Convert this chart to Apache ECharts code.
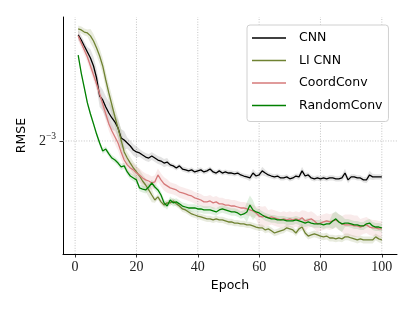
<!DOCTYPE html>
<html><head><meta charset="utf-8">
<script src="https://cdn.jsdelivr.net/npm/echarts@6/dist/echarts.min.js"></script>
<style>html,body{margin:0;padding:0;background:#fff}#c{width:415px;height:311px}</style>
</head><body><div id="c"></div>
<script>
const epochs = Array.from({length:100},(_,i)=>i+1);
const seriesNames = ['CNN','LI CNN','CoordConv','RandomConv'];
const xTicks = [0,20,40,60,80,100];
const yTicks = [0.125];
const xMin = -3.95, xMax = 104.95, yMin = 0.0766, yMax = 0.2139;

const cnn = [0.1979,0.1936,0.1886,0.1838,0.1791,0.1730,0.1642,0.1519,0.1493,0.1448,
0.1411,0.1381,0.1357,0.1322,0.1266,0.1255,0.1239,0.1223,0.1202,0.1192,
0.1187,0.1176,0.1166,0.1161,0.1171,0.1161,0.1151,0.1146,0.1136,0.1141,
0.1127,0.1122,0.1112,0.1122,0.1107,0.1103,0.1098,0.1103,0.1093,0.1098,
0.1103,0.1093,0.1098,0.1107,0.1093,0.1088,0.1098,0.1088,0.1093,0.1088,
0.1088,0.1084,0.1088,0.1079,0.1074,0.1070,0.1065,0.1088,0.1074,0.1079,
0.1098,0.1088,0.1079,0.1074,0.1070,0.1074,0.1065,0.1065,0.1070,0.1061,
0.1065,0.1074,0.1070,0.1098,0.1074,0.1079,0.1065,0.1061,0.1065,0.1061,
0.1065,0.1061,0.1065,0.1065,0.1061,0.1061,0.1065,0.1088,0.1056,0.1070,
0.1070,0.1065,0.1065,0.1056,0.1056,0.1079,0.1070,0.1070,0.1070,0.1070];

const liCnn = [0.2031,0.2022,0.2004,0.1996,0.1971,0.1928,0.1870,0.1806,0.1730,0.1628,
0.1539,0.1461,0.1387,0.1322,0.1255,0.1192,0.1161,0.1136,0.1112,0.1093,
0.1074,0.1051,0.1033,0.1011,0.0989,0.0968,0.0981,0.0960,0.0947,0.0956,
0.0956,0.0964,0.0952,0.0943,0.0931,0.0927,0.0919,0.0911,0.0907,0.0903,
0.0900,0.0896,0.0892,0.0892,0.0888,0.0892,0.0888,0.0888,0.0884,0.0880,
0.0880,0.0876,0.0876,0.0873,0.0873,0.0869,0.0869,0.0865,0.0861,0.0858,
0.0858,0.0850,0.0854,0.0847,0.0839,0.0843,0.0847,0.0850,0.0858,0.0854,
0.0850,0.0839,0.0854,0.0861,0.0839,0.0828,0.0832,0.0836,0.0832,0.0828,
0.0825,0.0828,0.0821,0.0821,0.0818,0.0821,0.0818,0.0825,0.0825,0.0821,
0.0818,0.0814,0.0818,0.0814,0.0814,0.0814,0.0814,0.0825,0.0818,0.0814];

const coordConv = [0.1971,0.1911,0.1854,0.1799,0.1730,0.1664,0.1600,0.1532,0.1467,0.1405,
0.1346,0.1305,0.1272,0.1239,0.1192,0.1151,0.1127,0.1112,0.1103,0.1088,
0.1079,0.1065,0.1056,0.1051,0.1042,0.1047,0.1079,0.1056,0.1038,0.1029,
0.1020,0.1016,0.1011,0.1002,0.0998,0.0994,0.0989,0.0985,0.0977,0.0973,
0.0968,0.0960,0.0960,0.0964,0.0956,0.0960,0.0952,0.0952,0.0947,0.0947,
0.0943,0.0943,0.0939,0.0935,0.0935,0.0931,0.0927,0.0923,0.0915,0.0903,
0.0900,0.0903,0.0896,0.0900,0.0896,0.0892,0.0888,0.0892,0.0888,0.0892,
0.0888,0.0892,0.0888,0.0896,0.0884,0.0888,0.0892,0.0884,0.0873,0.0876,
0.0880,0.0884,0.0880,0.0884,0.0888,0.0880,0.0873,0.0869,0.0869,0.0869,
0.0865,0.0865,0.0861,0.0865,0.0869,0.0861,0.0858,0.0858,0.0854,0.0854];

const randomConv = [0.1814,0.1678,0.1573,0.1474,0.1405,0.1346,0.1288,0.1239,0.1197,0.1207,
0.1182,0.1161,0.1151,0.1136,0.1117,0.1122,0.1093,0.1074,0.1065,0.1056,
0.1020,0.1015,0.1011,0.1024,0.1042,0.1024,0.1011,0.0989,0.0956,0.0943,
0.0968,0.0956,0.0960,0.0952,0.0943,0.0939,0.0935,0.0935,0.0935,0.0931,
0.0931,0.0927,0.0927,0.0927,0.0923,0.0919,0.0927,0.0931,0.0927,0.0923,
0.0919,0.0919,0.0915,0.0907,0.0911,0.0919,0.0947,0.0927,0.0919,0.0915,
0.0907,0.0900,0.0896,0.0892,0.0892,0.0888,0.0888,0.0888,0.0884,0.0884,
0.0884,0.0888,0.0884,0.0880,0.0876,0.0880,0.0876,0.0873,0.0873,0.0873,
0.0869,0.0873,0.0873,0.0884,0.0892,0.0880,0.0873,0.0876,0.0876,0.0873,
0.0869,0.0869,0.0865,0.0865,0.0873,0.0876,0.0865,0.0861,0.0861,0.0858];

// spread (std) around each mean curve
const cnnSd = [0.004,0.004,0.004,0.004,0.007,0.007,0.007,0.007,0.007,0.007,
0.007,0.007,0.005,0.005,0.005,0.005,0.003,0.003,0.003,0.003,
0.002,0.002,0.002,0.002,0.002,0.002,0.002,0.002,0.002,0.002,
0.0012,0.0012,0.0012,0.0012,0.0012,0.0012,0.0012,0.0012,0.0012,0.0012,
0.0012,0.0012,0.0012,0.0012,0.0012,0.0012,0.0012,0.0012,0.0012,0.0012,
0.0012,0.0012,0.0012,0.0012,0.0012,0.0012,0.0015,0.002,0.0015,0.0012,
0.002,0.0015,0.0012,0.0012,0.0012,0.0012,0.0012,0.0012,0.0012,0.0012,
0.0012,0.0012,0.0015,0.002,0.0015,0.0012,0.0012,0.0012,0.0012,0.0012,
0.0012,0.0012,0.0012,0.0012,0.0012,0.0012,0.0015,0.002,0.0015,0.0012,
0.0012,0.0012,0.0012,0.0012,0.0015,0.002,0.0015,0.0012,0.0012,0.0012];

const liCnnSd = [0.003,0.003,0.003,0.003,0.006,0.006,0.006,0.006,0.006,0.006,
0.006,0.006,0.006,0.006,0.006,0.003,0.003,0.003,0.003,0.003,
0.003,0.003,0.003,0.003,0.003,0.0012,0.0012,0.0012,0.0012,0.0012,
0.0012,0.0012,0.0012,0.0012,0.0012,0.0012,0.0012,0.0012,0.0012,0.0012,
0.0012,0.0012,0.0012,0.0012,0.0012,0.0012,0.0012,0.0012,0.0012,0.0012,
0.0012,0.0012,0.0012,0.0012,0.0012,0.0012,0.0012,0.0012,0.0012,0.0012,
0.0012,0.0012,0.0012,0.0012,0.0012,0.0012,0.0012,0.0012,0.0012,0.0012,
0.0012,0.0012,0.0012,0.0012,0.0012,0.0012,0.0012,0.0012,0.0012,0.0012,
0.0012,0.0012,0.0012,0.0012,0.0012,0.0012,0.0012,0.0012,0.0012,0.0012,
0.0012,0.0012,0.0012,0.0012,0.0012,0.0012,0.0012,0.0012,0.0012,0.0012];

const coordConvSd = [0.004,0.004,0.004,0.004,0.004,0.004,0.004,0.004,0.004,0.004,
0.004,0.004,0.004,0.004,0.004,0.003,0.003,0.003,0.003,0.003,
0.003,0.003,0.003,0.003,0.003,0.003,0.003,0.003,0.003,0.003,
0.0025,0.0025,0.0025,0.0025,0.0025,0.0025,0.0025,0.0025,0.0025,0.0025,
0.0025,0.0025,0.0025,0.0025,0.0025,0.0025,0.0025,0.0025,0.0025,0.0025,
0.0025,0.0025,0.0025,0.0025,0.0025,0.0025,0.0025,0.0025,0.0025,0.004,
0.004,0.004,0.003,0.003,0.003,0.003,0.003,0.003,0.003,0.003,
0.003,0.003,0.003,0.003,0.004,0.003,0.003,0.003,0.003,0.003,
0.003,0.003,0.003,0.003,0.003,0.003,0.003,0.004,0.004,0.004,
0.004,0.004,0.003,0.003,0.003,0.003,0.003,0.003,0.003,0.003];

const randomConvSd = [0.0015,0.0015,0.0015,0.0015,0.0015,0.0015,0.0015,0.0015,0.0015,0.0015,
0.0015,0.0015,0.0015,0.0015,0.0015,0.0015,0.0015,0.0015,0.0015,0.0015,
0.0015,0.0015,0.0015,0.0015,0.0015,0.0015,0.0015,0.0015,0.0015,0.0015,
0.0015,0.0015,0.0015,0.0015,0.0015,0.0015,0.0015,0.0015,0.0015,0.0015,
0.0015,0.0015,0.0015,0.0015,0.0015,0.0015,0.0015,0.0015,0.0015,0.0015,
0.0015,0.0015,0.0015,0.0015,0.0015,0.004,0.004,0.004,0.0015,0.0015,
0.0015,0.0015,0.0015,0.0015,0.0015,0.0015,0.0015,0.0015,0.0015,0.0015,
0.0015,0.0015,0.0015,0.0015,0.0015,0.0015,0.0015,0.0015,0.0015,0.0015,
0.0015,0.0015,0.0015,0.003,0.003,0.003,0.003,0.0015,0.0015,0.0015,
0.0015,0.0015,0.0015,0.0015,0.0015,0.0015,0.0015,0.0015,0.0015,0.0015];

const lineColors = ['#000000','#6f8232','#d67a7a','#008000'];
const bandColors = ['rgba(0,0,0,0.11)','rgba(111,130,50,0.16)','rgba(214,122,122,0.15)','rgba(0,128,0,0.12)'];
const means = [cnn, liCnn, coordConv, randomConv];
const sds = [cnnSd, liCnnSd, coordConvSd, randomConvSd];
const gridStyle = {color:'#b5b5b5', type:[1,1.6], width:0.8};

function bandSeries(i){
  return {
    type:'custom', name: seriesNames[i]+'_band', silent:true, z:2, clip:true, animation:false,
    data: means[i].map((v,k)=>[epochs[k], v - sds[i][k], v + sds[i][k]]),
    encode:{x:0, y:[1,2]},
    renderItem:(params, api)=>{
      if (params.dataIndexInside !== 0) return null;
      const n = params.dataInsideLength;
      const top = [], bot = [];
      for (let k=0;k<n;k++){
        top.push(api.coord([api.value(0,k), api.value(2,k)]));
        bot.push(api.coord([api.value(0,k), api.value(1,k)]));
      }
      return {type:'polygon', shape:{points: top.concat(bot.reverse())}, style:{fill: bandColors[i]}};
    }
  };
}
function lineSeries(i){
  return {
    type:'line', name: seriesNames[i], z:3, animation:false, silent:true,
    symbol:'none', showSymbol:false,
    data: means[i].map((v,k)=>[epochs[k], v]),
    lineStyle:{color: lineColors[i], width:1.3},
    itemStyle:{color: lineColors[i]}
  };
}

const series = [];
xTicks.forEach(t=>series.push({
  type:'line', name:'gx'+t, z:1, silent:true, animation:false, symbol:'none',
  data:[[t, yMin],[t, yMax]], lineStyle:gridStyle
}));
yTicks.forEach(t=>series.push({
  type:'line', name:'gy'+t, z:1, silent:true, animation:false, symbol:'none',
  data:[[xMin, t],[xMax, t]], lineStyle:gridStyle
}));
for (let i=0;i<4;i++) series.push(bandSeries(i));
for (let i=0;i<4;i++) series.push(lineSeries(i));

const chart = echarts.init(document.getElementById('c'), null, {renderer:'canvas'});
chart.setOption({
  animation:false,
  backgroundColor:'#fff',
  grid:{left:63, right:18, top:17, bottom:57, containLabel:false},
  xAxis:{
    type:'value', min:xMin, max:xMax,
    splitLine:{show:false},
    axisLine:{onZero:false, lineStyle:{color:'#000', width:1}},
    axisTick:{customValues:xTicks, length:3.5, lineStyle:{color:'#000', width:0.8}},
    axisLabel:{customValues:xTicks, fontFamily:'Liberation Serif', fontSize:14, color:'#222', margin:6},
    name:'Epoch', nameLocation:'middle', nameGap:24,
    nameTextStyle:{fontFamily:'DejaVu Sans', fontSize:12.5, color:'#000'}
  },
  yAxis:{
    type:'log', logBase:2, min:yMin, max:yMax,
    splitLine:{show:false},
    axisLine:{onZero:false, lineStyle:{color:'#000', width:1}},
    axisTick:{customValues:yTicks, length:3.5, lineStyle:{color:'#000', width:0.8}},
    axisLabel:{
      customValues:yTicks, margin:7,
      formatter:(v)=>'{a|2}{b|−' + Math.abs(Math.round(Math.log2(v))) + '}',
      rich:{
        a:{fontFamily:'Liberation Serif', fontSize:14, color:'#222'},
        b:{fontFamily:'Liberation Serif', fontSize:9.5, color:'#222', padding:[0,0,8,0]}
      }
    },
    name:'RMSE', nameLocation:'middle', nameGap:33,
    nameTextStyle:{fontFamily:'DejaVu Sans', fontSize:12.5, color:'#000'}
  },
  legend:{
    data: seriesNames, orient:'vertical', left:247, top:25,
    icon:'rect', itemWidth:34, itemHeight:1.5, itemGap:8.5,
    padding:[6,6,9,5], backgroundColor:'#fff', borderColor:'#d0d0d0', borderWidth:1, borderRadius:3,
    selectedMode:false,
    textStyle:{fontFamily:'DejaVu Sans', fontSize:12.5, color:'#000', padding:[0,0,0,8], lineHeight:14}
  },
  series: series
});
</script>
</body></html>
